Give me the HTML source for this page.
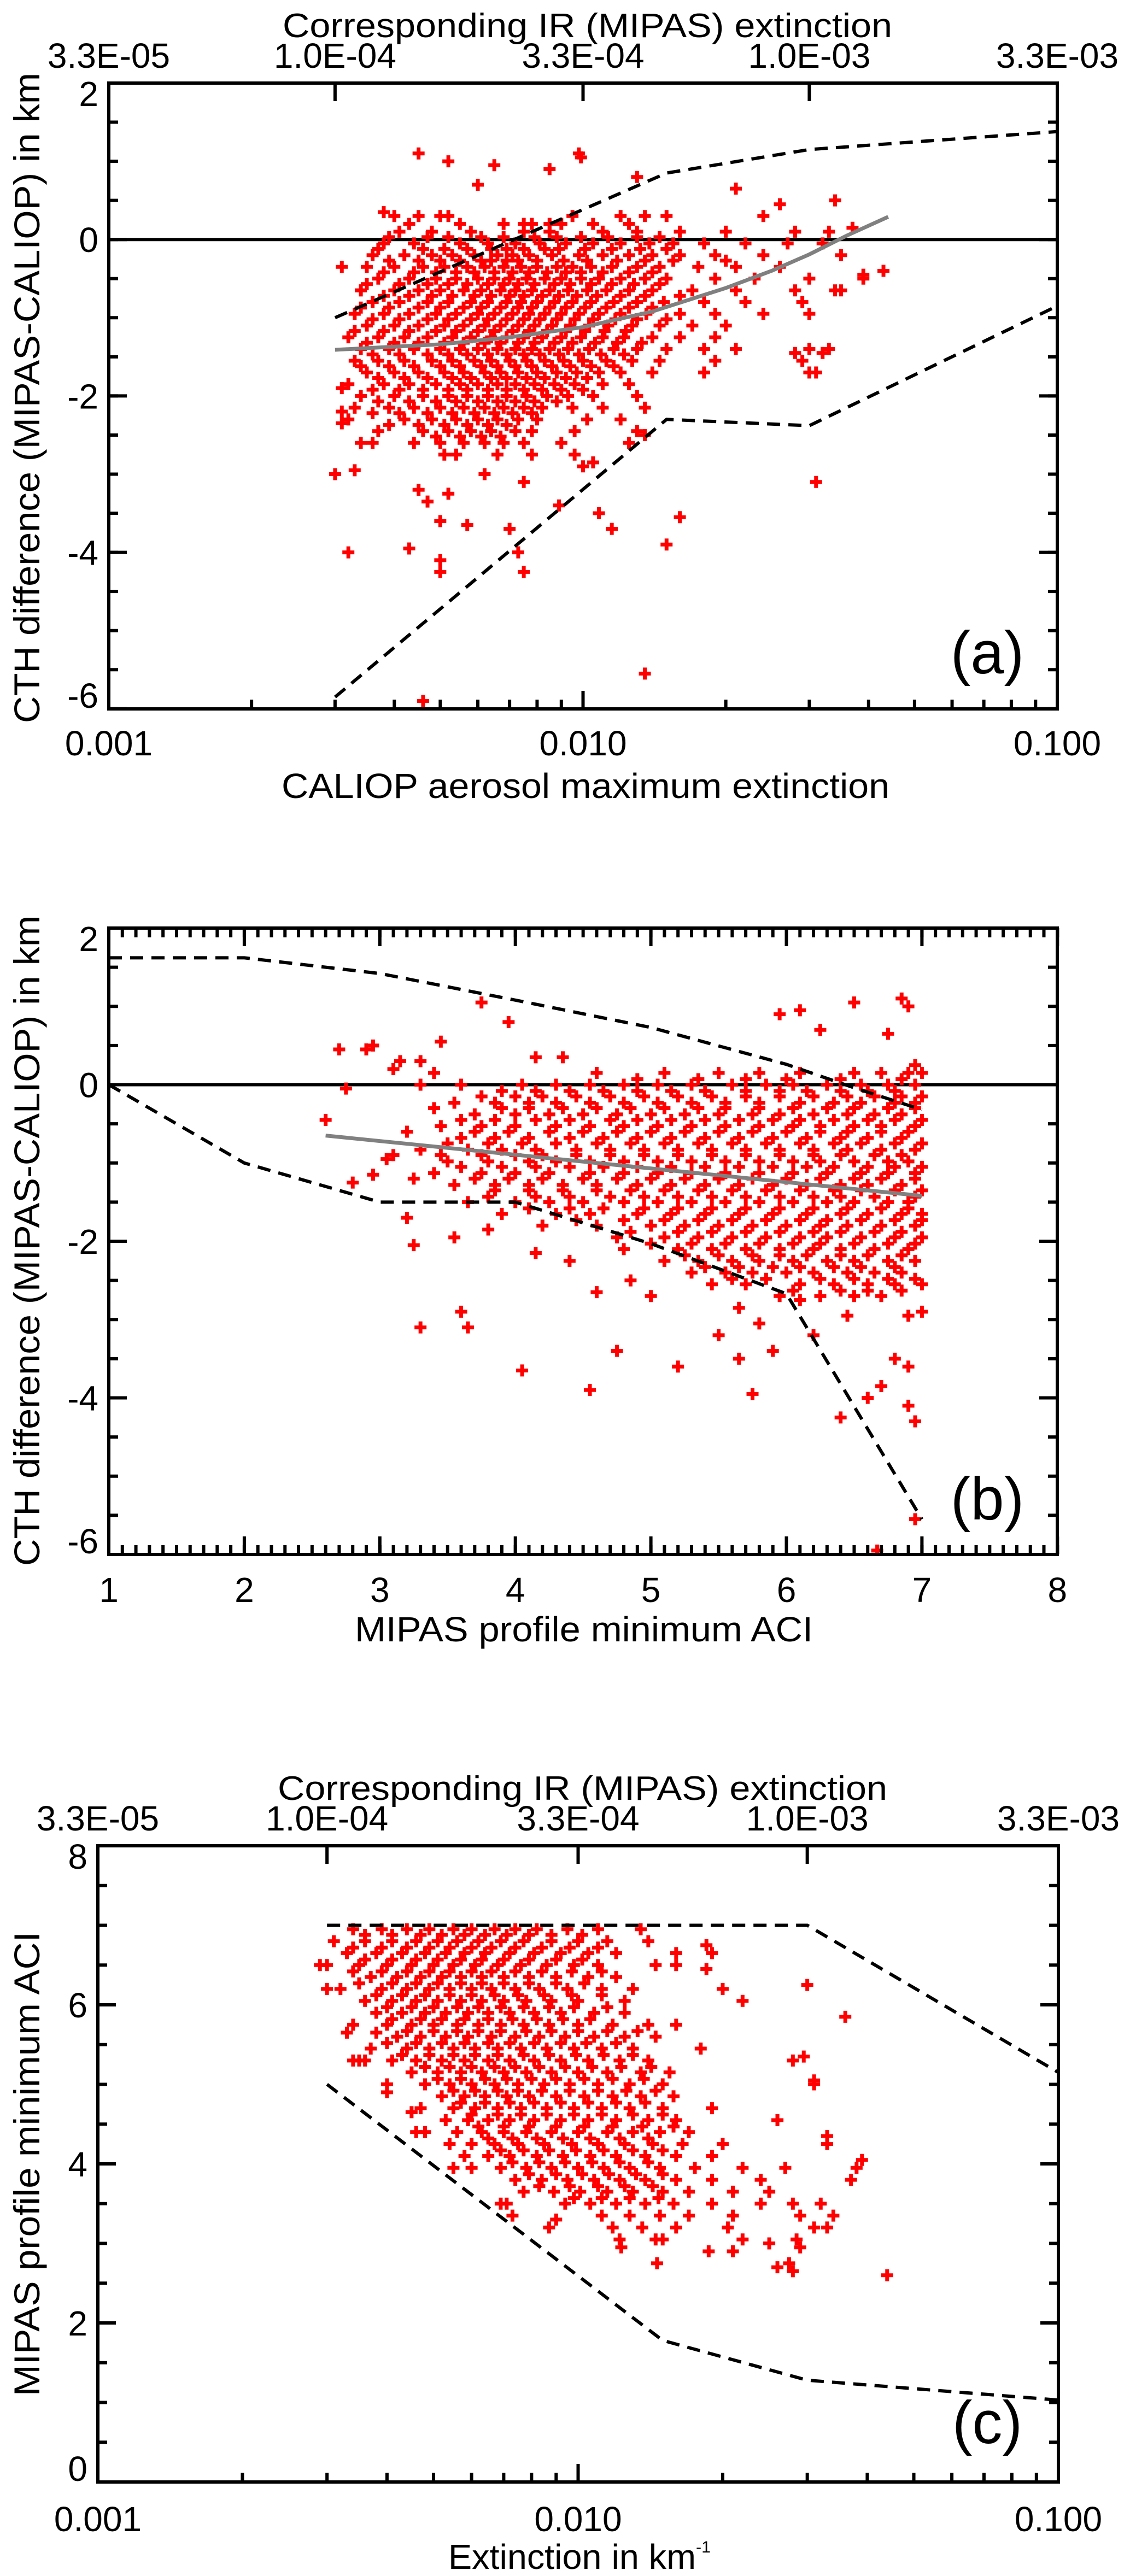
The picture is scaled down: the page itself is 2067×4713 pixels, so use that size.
<!DOCTYPE html>
<html><head><meta charset="utf-8"><style>
html,body{margin:0;padding:0;background:#fff;}
svg{display:block;font-family:"Liberation Sans",sans-serif;}
</style></head><body>
<svg id="fig" xmlns="http://www.w3.org/2000/svg" width="2067" height="4713" viewBox="0 0 2067 4713">
<rect width="2067" height="4713" fill="#fff"/>
</svg>
<script>
// ---------- Panel (a) data ----------
const aRowY = [0.3,0.1,-0.05,-0.2,-0.35,-0.5,-0.65,-0.8,-0.95,-1.1,-1.25,-1.4,-1.55,-1.7,-1.85,-2.0,-2.15,-2.3,-2.45,-2.6,-2.75];
const aRowX = [
[0.004,0.0045,0.005,0.0052,0.0095,0.012,0.0135,0.015],
[0.0041,0.0048,0.0058,0.0075,0.0085,0.011,0.013,0.016,0.02,0.028,0.033],
[0.0038,0.0044,0.0055,0.0063,0.0072,0.0081,0.0092,0.0105,0.012,0.0138,0.0155,0.018,0.022,0.027,0.032],
[0.0036,0.0042,0.0048,0.0053,0.0059,0.0066,0.0071,0.0077,0.0086,0.0098,0.011,0.0125,0.014,0.016,0.019,0.024,0.035],
[0.0035,0.004,0.0046,0.0051,0.0057,0.0062,0.0068,0.0074,0.008,0.0088,0.0095,0.0104,0.0115,0.013,0.0145,0.0175,0.021,0.026],
[0.0037,0.0043,0.0049,0.0054,0.006,0.0065,0.007,0.0076,0.0083,0.009,0.0099,0.0108,0.012,0.0135,0.015,0.019,0.023,0.03,0.039],
[0.0034,0.004,0.0045,0.005,0.0056,0.0061,0.0067,0.0072,0.0078,0.0085,0.0093,0.0102,0.0112,0.0125,0.014,0.017,0.021,0.028,0.034],
[0.0036,0.0041,0.0047,0.0052,0.0058,0.0063,0.0069,0.0074,0.008,0.0087,0.0095,0.0104,0.0116,0.013,0.0148,0.018,0.022,0.029],
[0.0033,0.0038,0.0043,0.0049,0.0054,0.006,0.0065,0.0071,0.0077,0.0083,0.009,0.0098,0.0108,0.012,0.0136,0.016,0.019,0.024,0.03],
[0.0035,0.004,0.0045,0.0051,0.0056,0.0062,0.0067,0.0073,0.0079,0.0086,0.0094,0.0103,0.0113,0.0127,0.0145,0.017,0.02],
[0.0032,0.0037,0.0042,0.0047,0.0053,0.0058,0.0064,0.0069,0.0075,0.0082,0.009,0.0099,0.011,0.0122,0.014,0.016,0.019],
[0.0034,0.0039,0.0044,0.005,0.0055,0.006,0.0066,0.0072,0.0078,0.0085,0.0093,0.0103,0.0116,0.013,0.015,0.018,0.021,0.03,0.033],
[0.0033,0.0037,0.0042,0.0048,0.0053,0.0059,0.0064,0.007,0.0076,0.0083,0.0091,0.01,0.0112,0.0127,0.0145,0.019],
[0.0035,0.004,0.0045,0.0051,0.0056,0.0062,0.0067,0.0073,0.008,0.0088,0.0097,0.0108,0.012,0.014,0.018,0.031],
[0.0032,0.0038,0.0043,0.0049,0.0055,0.006,0.0066,0.0072,0.0079,0.0087,0.0096,0.011,0.0125],
[0.0034,0.004,0.0046,0.0052,0.0057,0.0063,0.0069,0.0076,0.0084,0.0093,0.0105,0.013],
[0.0033,0.0039,0.0044,0.005,0.0056,0.0062,0.0068,0.0075,0.0082,0.0095,0.011,0.0135],
[0.0032,0.0042,0.0048,0.0054,0.006,0.0066,0.0073,0.008,0.0102,0.012],
[0.0037,0.0046,0.0052,0.0058,0.0064,0.0072,0.0078,0.0096,0.013],
[0.0036,0.0044,0.005,0.0056,0.0062,0.0068,0.0075,0.009,0.0125],
[0.0051,0.0054,0.0066,0.0078,0.0096]];
const aRow2Y = [0.2,0.03,-0.12,-0.27,-0.42,-0.57,-0.72,-0.87,-1.02,-1.17,-1.32,-1.47,-1.62,-1.77,-1.92,-2.07,-2.22,-2.37,-2.52];
const aRow2X = [
[0.0043,0.0055,0.0068,0.0078,0.009,0.0105,0.0125],
[0.0039,0.0047,0.0052,0.0061,0.0068,0.0079,0.0088,0.0099,0.0113,0.013,0.0145],
[0.0037,0.0046,0.0051,0.0057,0.0064,0.0069,0.0075,0.0083,0.0089,0.0101,0.0115,0.0132,0.015],
[0.0039,0.0045,0.005,0.0055,0.0061,0.0064,0.0069,0.0073,0.008,0.0091,0.0102,0.0118,0.0135,0.0155,0.02],
[0.0038,0.0044,0.0049,0.0054,0.0059,0.0065,0.0071,0.0077,0.0084,0.0092,0.0099,0.011,0.0125,0.014],
[0.0035,0.0041,0.0047,0.0052,0.0057,0.0063,0.0068,0.0073,0.0079,0.0087,0.0094,0.0104,0.0115,0.0128,0.0145],
[0.0038,0.0043,0.0048,0.0053,0.0059,0.0064,0.007,0.0075,0.0082,0.0089,0.0097,0.0107,0.012,0.0135,0.016],
[0.0034,0.0039,0.0045,0.005,0.0056,0.0061,0.0067,0.0073,0.0078,0.0085,0.0092,0.0101,0.0112,0.0125,0.014],
[0.0036,0.0041,0.0047,0.0052,0.0058,0.0063,0.0069,0.0075,0.0081,0.0088,0.0096,0.0105,0.0117,0.013,0.015],
[0.0033,0.0038,0.0043,0.0049,0.0054,0.006,0.0065,0.0071,0.0077,0.0084,0.0092,0.0101,0.0111,0.0123],
[0.0035,0.004,0.0045,0.0051,0.0056,0.0062,0.0067,0.0073,0.0079,0.0087,0.0095,0.0106,0.0118,0.0133],
[0.0036,0.0041,0.0047,0.0052,0.0057,0.0063,0.0069,0.0075,0.0081,0.0089,0.0098,0.0109,0.0122],
[0.0034,0.0039,0.0044,0.005,0.0055,0.0061,0.0066,0.0072,0.0078,0.0086,0.0094,0.0104,0.0116],
[0.0037,0.0042,0.0047,0.0053,0.0058,0.0064,0.0069,0.0076,0.0083,0.0092,0.0102],
[0.0036,0.0041,0.0046,0.0052,0.0057,0.0063,0.0069,0.0075,0.0082,0.009,0.01],
[0.0037,0.0043,0.0049,0.0054,0.006,0.0066,0.0072,0.0079,0.0088],
[0.0036,0.0041,0.0047,0.0053,0.0059,0.0065,0.0071,0.0078],
[0.0039,0.0045,0.0051,0.0057,0.0063,0.0069],
[0.0049,0.0055,0.0061,0.0067]];
const aExtraX = [0.003,0.0033,0.0045,0.0047,0.005,0.0052,0.0057,0.0062,0.007,0.0075,0.0089,0.01,0.0105,0.0108,0.0115,0.0135,0.015,0.016,0.0032,0.0043,0.005,0.005,0.0073,0.0075,0.0135,0.0046,0.031,0.028,0.029,0.03,0.032,0.035,0.039,0.043,0.037,0.034,0.026,0.024,0.021,0.0045,0.0052,0.0065,0.0085,0.0098,0.0099,0.006,0.013,0.0075,0.0085,0.0038,0.0031,0.0034,0.0031,0.0031,0.0034,0.0031];
const aExtraY = [-3.0,-2.95,-3.2,-3.35,-3.6,-3.25,-3.65,-3.0,-3.7,-3.1,-3.4,-2.9,-2.85,-3.5,-3.7,-2.5,-3.9,-3.55,-4.0,-3.95,-4.1,-4.25,-4.0,-4.25,-5.55,-5.9,-3.1,-1.45,-1.55,-1.7,-1.45,-0.65,-0.45,-0.4,0.15,0.5,0.45,0.3,0.65,1.1,1.0,0.95,0.9,1.1,1.05,0.7,0.8,0.2,0.2,0.35,-0.35,-0.65,-1.9,-2.2,-2.6,-2.35];
const aUpperX = [0.003,0.015,0.03,0.1];
const aUpperY = [-1.0,0.85,1.15,1.38];
const aLowerX = [0.003,0.015,0.03,0.1];
const aLowerY = [-5.85,-2.3,-2.38,-0.85];
const aFitX = [0.003,0.004,0.005,0.007,0.01,0.014,0.02,0.025,0.03,0.036,0.044];
const aFitY = [-1.41,-1.37,-1.34,-1.25,-1.12,-0.92,-0.62,-0.4,-0.19,0.05,0.29];

// ---------- Panel (b) data ----------
const bRowY = [0.15,0.0,-0.15,-0.3,-0.45,-0.6,-0.75,-0.9,-1.05,-1.2,-1.35,-1.5,-1.65,-1.8,-1.95,-2.1,-2.25,-2.4,-2.55,-2.7];
const bRowX = [
[4.6,5.1,5.5,5.8,6.1,6.5,6.7,6.9,7.0],
[3.3,3.6,4.05,4.3,4.55,4.8,5.05,5.3,5.6,5.85,6.05,6.3,6.55,6.75,6.95],
[3.75,4.0,4.2,4.45,4.7,4.95,5.2,5.45,5.7,5.95,6.2,6.45,6.65,6.85,7.0],
[3.4,3.9,4.1,4.35,4.6,4.85,5.1,5.35,5.55,5.8,6.05,6.3,6.5,6.75,6.95],
[3.6,3.85,4.15,4.4,4.7,4.9,5.15,5.4,5.65,5.9,6.1,6.35,6.6,6.8,7.0],
[3.2,3.7,3.95,4.25,4.5,4.75,5.0,5.25,5.5,5.75,6.0,6.25,6.45,6.7,6.9],
[3.5,3.8,4.05,4.3,4.6,4.85,5.1,5.35,5.6,5.85,6.1,6.35,6.55,6.8,7.0],
[3.1,3.45,3.75,4.0,4.2,4.45,4.7,4.95,5.2,5.45,5.7,5.95,6.2,6.4,6.65,6.85],
[3.6,3.9,4.15,4.4,4.65,4.9,5.15,5.4,5.65,5.9,6.15,6.35,6.6,6.8,7.0],
[3.25,3.7,3.95,4.2,4.5,4.75,5.0,5.25,5.5,5.75,6.0,6.25,6.5,6.7,6.95],
[3.85,4.1,4.35,4.6,4.85,5.1,5.35,5.6,5.85,6.1,6.35,6.55,6.8,7.0],
[3.65,4.0,4.25,4.5,4.8,5.05,5.3,5.55,5.8,6.05,6.3,6.5,6.75,6.9],
[3.9,4.3,4.55,4.9,5.15,5.4,5.65,5.9,6.15,6.4,6.6,6.85,7.0],
[4.2,4.6,5.0,5.25,5.5,5.75,6.0,6.25,6.45,6.7,6.95],
[4.75,5.1,5.35,5.6,5.85,6.1,6.3,6.55,6.8,7.0],
[4.8,5.2,5.45,5.7,5.95,6.2,6.4,6.65,6.9],
[5.1,5.35,5.6,5.8,6.05,6.3,6.5,6.75,6.95],
[5.3,5.55,5.75,6.0,6.2,6.45,6.65,6.85],
[5.45,5.7,6.1,6.35,6.6,6.8,7.0],
[5.95,6.25,6.5,6.7]];
const bRow2Y = [0.07,-0.08,-0.23,-0.38,-0.53,-0.68,-0.83,-0.98,-1.13,-1.28,-1.43,-1.58,-1.73,-1.88,-2.03,-2.18,-2.33,-2.48,-2.63];
const bRow2X = [
[4.9,5.35,5.7,6.0,6.4,6.85],
[3.9,4.15,4.4,4.65,4.9,5.15,5.4,5.7,5.95,6.15,6.4,6.6,6.8],
[3.55,3.85,4.1,4.3,4.55,4.8,5.05,5.3,5.55,5.8,6.1,6.35,6.55,6.8,6.95],
[3.7,4.0,4.25,4.5,4.75,5.0,5.25,5.5,5.75,5.95,6.2,6.45,6.65,6.85],
[3.45,3.75,4.0,4.3,4.55,4.8,5.05,5.3,5.55,5.8,6.05,6.25,6.5,6.7,6.95],
[3.6,3.85,4.1,4.4,4.65,4.9,5.15,5.4,5.65,5.9,6.15,6.4,6.6,6.85],
[3.3,3.65,3.9,4.15,4.45,4.7,4.95,5.2,5.45,5.7,5.95,6.2,6.45,6.7,6.95],
[3.5,3.8,4.1,4.3,4.55,4.8,5.05,5.3,5.55,5.8,6.05,6.25,6.5,6.75,6.9],
[3.4,3.75,4.0,4.25,4.55,4.8,5.05,5.3,5.55,5.8,6.05,6.3,6.55,6.75,6.95],
[3.55,3.85,4.1,4.35,4.6,4.9,5.15,5.4,5.65,5.9,6.15,6.4,6.6,6.85],
[3.8,4.15,4.4,4.7,4.95,5.2,5.45,5.7,5.95,6.2,6.4,6.65,6.95],
[4.1,4.4,4.65,4.95,5.2,5.45,5.7,5.95,6.2,6.45,6.7,6.9],
[4.45,4.8,5.1,5.35,5.6,5.85,6.1,6.3,6.55,6.8,7.0],
[4.85,5.2,5.45,5.7,5.95,6.2,6.4,6.65,6.85],
[5.0,5.3,5.55,5.8,6.05,6.25,6.5,6.75,6.95],
[5.25,5.5,5.75,5.95,6.15,6.4,6.6,6.85],
[5.4,5.65,5.9,6.1,6.35,6.55,6.8],
[5.6,5.85,6.25,6.5,6.75,6.95],
[6.05,6.4,6.6,6.85]];
const bExtraX = [2.6,2.7,2.75,2.9,2.95,3.1,3.15,3.3,3.45,3.4,2.8,2.95,3.05,3.2,3.25,3.55,3.3,3.6,3.65,3.8,4.05,4.15,4.4,4.55,4.6,4.75,4.85,5.0,5.2,5.5,5.65,5.65,5.75,5.8,5.9,6.2,6.4,6.6,6.7,6.8,6.9,6.9,6.95,6.9,7.0,6.45,6.1,6.95,6.67,3.75,3.95,5.95,6.1,6.25,6.5,6.85,6.9,6.75,4.15,4.35,6.95];
const bExtraY = [-0.45,0.45,-0.05,0.45,0.5,0.2,0.3,0.3,0.55,0.15,-1.25,-1.15,-0.95,-1.7,-2.05,-1.95,-3.1,-2.9,-3.1,-1.85,-3.65,-2.15,-2.25,-3.9,-2.65,-3.4,-2.5,-2.7,-3.6,-3.2,-3.5,-2.85,-3.95,-3.05,-3.4,-3.2,-4.25,-4.0,-3.85,-3.5,-3.6,-4.1,-4.3,-2.95,-2.9,-2.95,-2.75,-5.55,-5.95,1.05,0.8,0.9,0.95,0.7,1.05,1.1,1.0,0.65,0.35,0.35,0.25];
const bUpperX = [1,2,3,4,5,6,6.5,7];
const bUpperY = [1.62,1.62,1.42,1.08,0.73,0.26,-0.04,-0.32];
const bLowerX = [1,2,3,4,5,6,7];
const bLowerY = [0,-1.0,-1.5,-1.5,-2.03,-2.67,-5.55];
const bFitX = [2.6,7.0];
const bFitY = [-0.65,-1.42];

// ---------- Panel (c) data ----------
const cRowY = [6.95,6.8,6.65,6.5,6.35,6.2,6.05,5.9,5.75,5.6,5.45,5.3,5.15,5.0,4.85,4.7,4.55,4.4,4.25,4.1,3.95,3.8,3.65,3.5,3.35,3.2,3.05];
const cRowX = [
[0.0034,0.0039,0.0044,0.0049,0.0055,0.006,0.0067,0.0074,0.0082,0.0095,0.011,0.0135],
[0.0031,0.0036,0.0041,0.0046,0.0051,0.0056,0.0062,0.0069,0.0077,0.0088,0.01,0.0115,0.014],
[0.0033,0.0038,0.0043,0.0048,0.0053,0.0058,0.0064,0.0072,0.0081,0.0092,0.0105,0.012,0.016,0.019],
[0.003,0.0035,0.004,0.0045,0.005,0.0055,0.0061,0.0068,0.0076,0.0086,0.0098,0.011,0.0145,0.016],
[0.0037,0.0042,0.0047,0.0052,0.0057,0.0063,0.007,0.0079,0.009,0.0105,0.012],
[0.0032,0.0039,0.0044,0.0049,0.0054,0.006,0.0066,0.0074,0.0083,0.0095,0.0112,0.013,0.02],
[0.0036,0.0041,0.0046,0.0051,0.0057,0.0063,0.007,0.0078,0.0088,0.01,0.0125,0.022],
[0.0038,0.0043,0.0048,0.0053,0.0059,0.0065,0.0072,0.0081,0.0092,0.0108,0.0125],
[0.0034,0.004,0.0045,0.005,0.0056,0.0062,0.0069,0.0077,0.0087,0.01,0.0118,0.014,0.016],
[0.0042,0.0047,0.0053,0.0059,0.0066,0.0074,0.0083,0.0094,0.0108,0.0125,0.0145],
[0.0037,0.0044,0.0049,0.0055,0.0061,0.0068,0.0076,0.0086,0.0098,0.0112,0.013,0.018],
[0.0035,0.0041,0.0046,0.0052,0.0058,0.0065,0.0072,0.0081,0.0092,0.0105,0.0122,0.014,0.028],
[0.0045,0.0051,0.0057,0.0063,0.007,0.0078,0.0088,0.01,0.0115,0.0135,0.0155],
[0.004,0.0048,0.0054,0.006,0.0067,0.0075,0.0085,0.0096,0.011,0.0128,0.015,0.031],
[0.0052,0.0058,0.0064,0.0071,0.0079,0.009,0.0103,0.0118,0.0135,0.0158],
[0.0047,0.0055,0.0061,0.0068,0.0076,0.0086,0.0098,0.0112,0.0128,0.015,0.019],
[0.0053,0.0059,0.0065,0.0072,0.0081,0.0092,0.0105,0.012,0.014,0.016,0.026],
[0.0048,0.0056,0.0063,0.007,0.0078,0.0088,0.01,0.0115,0.013,0.0148,0.017],
[0.0054,0.006,0.0067,0.0075,0.0085,0.0097,0.011,0.0125,0.0143,0.0165,0.02,0.033],
[0.0058,0.0065,0.0072,0.0082,0.0093,0.0106,0.012,0.0138,0.016,0.019],
[0.0055,0.0069,0.0078,0.0088,0.01,0.0113,0.0128,0.0148,0.0175,0.022,0.027,0.038],
[0.0074,0.0084,0.0095,0.0108,0.0122,0.0138,0.016,0.019,0.024,0.037],
[0.0077,0.0089,0.0101,0.0115,0.013,0.015,0.017,0.021,0.025],
[0.0071,0.0094,0.0106,0.012,0.0138,0.0158,0.019,0.024,0.028,0.032],
[0.0073,0.0112,0.0128,0.0148,0.017,0.021,0.029,0.034],
[0.0087,0.0118,0.0136,0.016,0.0205,0.031,0.033],
[0.0122,0.0145,0.015,0.022,0.0285]];
const cRow2Y = [6.88,6.72,6.57,6.42,6.27,6.12,5.97,5.82,5.67,5.52,5.37,5.22,5.07,4.92,4.77,4.62,4.47,4.32,4.17,4.02,3.87,3.72,3.57];
const cRow2X = [
[0.0036,0.0041,0.0047,0.0052,0.0058,0.0064,0.0071,0.0079,0.0088,0.0102],
[0.0034,0.0039,0.0044,0.0049,0.0054,0.006,0.0066,0.0074,0.0084,0.0096,0.011],
[0.0036,0.0041,0.0046,0.0051,0.0057,0.0063,0.007,0.0079,0.009,0.0102],
[0.0034,0.0039,0.0044,0.0049,0.0054,0.006,0.0066,0.0074,0.0084,0.0097,0.0112],
[0.0035,0.0041,0.0046,0.0051,0.0057,0.0063,0.007,0.0079,0.009,0.0103],
[0.0038,0.0043,0.0048,0.0054,0.006,0.0067,0.0075,0.0085,0.0097,0.0112],
[0.004,0.0045,0.005,0.0056,0.0062,0.0069,0.0077,0.0087,0.0098,0.0115],
[0.0041,0.0047,0.0052,0.0058,0.0065,0.0073,0.0082,0.0093,0.0106],
[0.0044,0.005,0.0056,0.0062,0.0069,0.0078,0.0088,0.01,0.0115,0.0133],
[0.004,0.0046,0.0052,0.0058,0.0065,0.0072,0.0081,0.0092,0.0104,0.012],
[0.0043,0.0049,0.0055,0.0061,0.0068,0.0077,0.0087,0.0099,0.0113,0.013],
[0.0048,0.0054,0.006,0.0067,0.0074,0.0083,0.0094,0.0107,0.0123,0.0142],
[0.0051,0.0057,0.0064,0.0071,0.008,0.009,0.0103,0.0118,0.0137],
[0.0055,0.0061,0.0068,0.0075,0.0084,0.0096,0.011,0.0126,0.0145],
[0.0057,0.0064,0.0072,0.0081,0.0092,0.0105,0.012,0.0138],
[0.006,0.0068,0.0076,0.0086,0.0098,0.0112,0.013,0.015],
[0.0062,0.007,0.0079,0.009,0.0103,0.0118,0.0136,0.0158],
[0.0065,0.0073,0.0082,0.0093,0.0106,0.0122,0.014],
[0.0069,0.0077,0.0087,0.0099,0.0113,0.013,0.015],
[0.0073,0.0083,0.0094,0.0107,0.0122,0.014],
[0.0079,0.009,0.0102,0.0116,0.0132,0.015],
[0.0083,0.0096,0.011,0.0125,0.0143],
[0.0098,0.0112,0.0128,0.0147]];
const cExtraX = [0.0029,0.003,0.0033,0.0034,0.0036,0.0038,0.004,0.0045,0.0046,0.006,0.0069,0.009,0.0123,0.0146,0.0187,0.021,0.025,0.026,0.0275,0.028,0.029,0.03,0.036,0.0295,0.031,0.044,0.039,0.033,0.026,0.0185,0.0185];
const cExtraY = [6.5,6.2,5.65,5.3,5.3,5.65,4.9,4.65,4.4,3.95,3.5,3.3,2.95,2.75,2.9,2.9,3.0,2.7,2.75,2.65,2.95,6.25,5.85,5.35,5.05,2.6,4.05,4.35,4.55,6.75,6.45];
const cUpperX = [0.003,0.03,0.1];
const cUpperY = [7.0,7.0,5.15];
const cLowerX = [0.003,0.015,0.03,0.1];
const cLowerY = [5.0,1.78,1.28,1.03];

// ---------- tick labels ----------
const logTickVals = [0.001,0.01,0.1];
const logTickLabels = ["0.001","0.010","0.100"];
const topTickVals = [0.001,0.003,0.01,0.03,0.1];
const topTickLabels = ["3.3E-05","1.0E-04","3.3E-04","1.0E-03","3.3E-03"];
const diffTickVals = [2,0,-2,-4,-6];
const diffTickLabels = ["2","0","-2","-4","-6"];
const aciXTickVals = [1,2,3,4,5,6,7,8];
const aciXTickLabels = ["1","2","3","4","5","6","7","8"];
const aciYTickVals = [8,6,4,2,0];
const aciYTickLabels = ["8","6","4","2","0"];

const NS = "http://www.w3.org/2000/svg";
const svg = document.getElementById("fig");

function mk(tag, attrs, parent){
  const el = document.createElementNS(NS, tag);
  for (const k in attrs) el.setAttribute(k, attrs[k]);
  (parent||svg).appendChild(el);
  return el;
}
function text(parent, x, y, str, size, anchor, name){
  const t = mk("text", {x:x, y:y, "font-size":size, "text-anchor":anchor||"middle", fill:"#000"}, parent);
  t.textContent = str;
  
  
  return t;
}

function panel(cfg){
  const g = mk("g", {});
  
  
  const L=cfg.L,R=cfg.R,T=cfg.T,B=cfg.B;
  const X=cfg.X, Y=cfg.Y;
  const clip = mk("clipPath", {id:cfg.name+"-clip"}, g);
  mk("rect",{x:L,y:T,width:R-L,height:B-T},clip);
  const plot = mk("g",{"clip-path":"url(#"+cfg.name+"-clip)"},g);
  
  

  if (cfg.zero){
    const z = mk("line",{x1:L,x2:R,y1:Y(0),y2:Y(0),stroke:"#000","stroke-width":6},plot);
    
    
  }
  const pts = mk("g",{stroke:"#ff0000","stroke-width":7,fill:"none"},plot);
  
  
  function cross(vx,vy){
    const px=X(vx), py=Y(vy);
    const p = mk("path",{d:"M"+(px-11)+" "+py+"H"+(px+11)+"M"+px+" "+(py-11)+"V"+(py+11)},pts);
    
    
  }
  cfg.rowY.forEach((yv,i)=>cfg.rowX[i].forEach(xv=>cross(xv,yv)));
  cfg.row2Y.forEach((yv,i)=>cfg.row2X[i].forEach(xv=>cross(xv,yv)));
  cfg.exX.forEach((xv,i)=>cross(xv,cfg.exY[i]));

  function poly(xs,ys,attrs,name){
    const d = xs.map((v,i)=>(i?"L":"M")+X(v).toFixed(1)+" "+Y(ys[i]).toFixed(1)).join("");
    const p = mk("path",Object.assign({d:d,fill:"none"},attrs),plot);
    
    
  }
  if (cfg.fitX) poly(cfg.fitX,cfg.fitY,{stroke:"#808080","stroke-width":7},"fit-line");
  poly(cfg.upX,cfg.upY,{stroke:"#000","stroke-width":6,"stroke-dasharray":"24 15"},"upper-envelope");
  poly(cfg.loX,cfg.loY,{stroke:"#000","stroke-width":6,"stroke-dasharray":"24 15"},"lower-envelope");

  const fr = mk("rect",{x:L,y:T,width:R-L,height:B-T,fill:"none",stroke:"#000","stroke-width":6},g);
  
  

  const tk = mk("g",{stroke:"#000","stroke-width":6},g);
  
  
  function vtick(x,len,top){ mk("line",{x1:x,x2:x,y1:B,y2:B-len},tk); if(top) mk("line",{x1:x,x2:x,y1:T,y2:T+len},tk); }
  function htick(y,len){ mk("line",{x1:L,x2:L+len,y1:y,y2:y},tk); mk("line",{x1:R,x2:R-len,y1:y,y2:y},tk); }
  cfg.xMinor.forEach(v=>vtick(X(v),17,cfg.topMinor));
  cfg.xMajor.forEach(v=>vtick(X(v),33,cfg.topMinor));
  cfg.yMinor.forEach(v=>htick(Y(v),17));
  cfg.yMajor.forEach(v=>htick(Y(v),33));
  if (cfg.topVals) cfg.topVals.forEach(v=>mk("line",{x1:X(v),x2:X(v),y1:T,y2:T+33},tk));

  cfg.xLabVals.forEach((v,i)=>text(g,X(v),cfg.xLabBase,cfg.xLabs[i],64,"middle","x-tick-label"));
  cfg.yLabVals.forEach((v,i)=>{
    let yy=Y(v)+23; if(i===0) yy=Y(v)+42; if(i===cfg.yLabVals.length-1) yy=Y(v)-2;
    text(g,cfg.yLabRight,yy,cfg.yLabs[i],64,"end","y-tick-label");
  });
  if (cfg.topVals){
    cfg.topVals.forEach((v,i)=>text(g,X(v),T-28,cfg.topLabs[i],64,"middle","top-tick-label"));
    const tt = text(g,(L+R)/2+8,T-84,"Corresponding IR (MIPAS) extinction",62,"middle","top-axis-title");
    tt.setAttribute("textLength",1115); tt.setAttribute("lengthAdjust","spacingAndGlyphs");
  }
  const xt = text(g,cfg.xTitleX,cfg.xTitleBase,"",64,"middle","x-axis-title");
  if (cfg.xTitleSup){ xt.textContent=cfg.xTitle; const s=mk("tspan",{"font-size":30,dy:-30},xt); s.textContent="-1"; }
  else xt.textContent=cfg.xTitle;
  xt.setAttribute("textLength",cfg.xTitleLen); xt.setAttribute("lengthAdjust","spacingAndGlyphs");
  const yt = text(g,0,0,cfg.yTitle,66,"middle","y-axis-title");
  yt.setAttribute("transform","translate(72,"+cfg.yTitleC+") rotate(-90)");
  yt.setAttribute("textLength",cfg.yTitleLen); yt.setAttribute("lengthAdjust","spacingAndGlyphs");
  text(g,cfg.tagX,cfg.tagY,cfg.tag,110,"middle","panel-label");
}

function logMinor(){ const a=[]; [0.001,0.01].forEach(d=>{for(let k=2;k<=9;k++)a.push(d*k);}); return a; }
function range(a,b,s){ const r=[]; for(let v=a; v<=b+1e-9; v+=s) r.push(+v.toFixed(4)); return r; }

panel({name:"panel-a",L:199,R:1934,T:152,B:1297,
  X:v=>199+(Math.log10(v)+3)*867.5, Y:v=>152+(2-v)*143.1, zero:true,
  rowY:aRowY,rowX:aRowX,row2Y:aRow2Y,row2X:aRow2X,exX:aExtraX,exY:aExtraY,fitX:aFitX,fitY:aFitY,
  upX:aUpperX,upY:aUpperY,loX:aLowerX,loY:aLowerY,
  xMinor:logMinor(),xMajor:logTickVals,topMinor:false,topVals:topTickVals,topLabs:topTickLabels,
  yMinor:range(-6,2,0.5),yMajor:diffTickVals,
  xLabVals:logTickVals,xLabs:logTickLabels,xLabBase:1382,
  yLabVals:diffTickVals,yLabs:diffTickLabels,yLabRight:180,
  xTitle:"CALIOP aerosol maximum extinction",xTitleX:1071,xTitleBase:1460,xTitleLen:1112,
  yTitle:"CTH difference (MIPAS-CALIOP) in km",yTitleC:728,yTitleLen:1190,
  tag:"(a)",tagX:1806,tagY:1232});

panel({name:"panel-b",L:199,R:1934,T:1698,B:2844,
  X:v=>199+(v-1)*247.9, Y:v=>1698+(2-v)*143.25, zero:true,
  rowY:bRowY,rowX:bRowX,row2Y:bRow2Y,row2X:bRow2X,exX:bExtraX,exY:bExtraY,fitX:bFitX,fitY:bFitY,
  upX:bUpperX,upY:bUpperY,loX:bLowerX,loY:bLowerY,
  xMinor:range(1,8,0.1),xMajor:aciXTickVals,topMinor:true,
  yMinor:range(-6,2,0.5),yMajor:diffTickVals,
  xLabVals:aciXTickVals,xLabs:aciXTickLabels,xLabBase:2931,
  yLabVals:diffTickVals,yLabs:diffTickLabels,yLabRight:180,
  xTitle:"MIPAS profile minimum ACI",xTitleX:1068,xTitleBase:3003,xTitleLen:838,
  yTitle:"CTH difference (MIPAS-CALIOP) in km",yTitleC:2270,yTitleLen:1190,
  tag:"(b)",tagX:1806,tagY:2780});

panel({name:"panel-c",L:179,R:1936,T:3377,B:4541,
  X:v=>179+(Math.log10(v)+3)*878.5, Y:v=>4541-v*145.5, zero:false,
  rowY:cRowY,rowX:cRowX,row2Y:cRow2Y,row2X:cRow2X,exX:cExtraX,exY:cExtraY,
  upX:cUpperX,upY:cUpperY,loX:cLowerX,loY:cLowerY,
  xMinor:logMinor(),xMajor:logTickVals,topMinor:false,topVals:topTickVals,topLabs:topTickLabels,
  yMinor:range(0,8,0.5),yMajor:aciYTickVals,
  xLabVals:logTickVals,xLabs:logTickLabels,xLabBase:4631,
  yLabVals:aciYTickVals,yLabs:aciYTickLabels,yLabRight:160,
  xTitle:"Extinction in km",xTitleSup:true,xTitleX:1060,xTitleBase:4700,xTitleLen:480,
  yTitle:"MIPAS profile minimum ACI",yTitleC:3959,yTitleLen:850,
  tag:"(c)",tagX:1806,tagY:4470});
</script>
</body></html>
